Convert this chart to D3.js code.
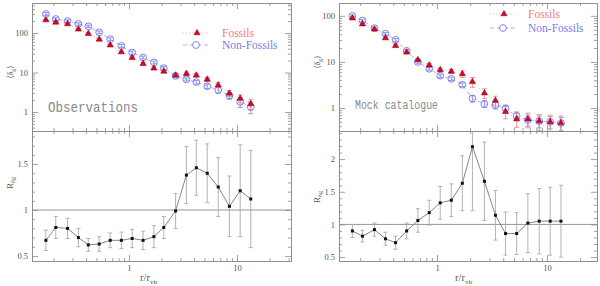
<!DOCTYPE html>
<html>
<head>
<meta charset="utf-8">
<script src="https://cdn.jsdelivr.net/npm/d3@7/dist/d3.min.js"></script>
<style>
  body { margin: 0; background: #fff; }
  svg { display: block; }
</style>
</head>
<body>
<svg id="chart" width="600" height="286"></svg>
<script>
// radial bins (r / r_vir), shared by both panels
const rVals = [0.17, 0.21, 0.27, 0.34, 0.42, 0.53, 0.67, 0.85, 1.07, 1.35,
               1.7, 2.1, 2.7, 3.4, 4.2, 5.3, 6.7, 8.5, 10.7, 13.4];

// Observations: mean overdensity
const obsFossil    = [213, 186, 169, 124, 96, 69, 49, 33, 23.6, 16.7, 12.8, 10.7, 8.5, 9.3, 8.5, 6.7, 4.8, 2.96, 2.2, 1.6];
const obsFossilErr = [10, 9, 8, 6, 5, 4, 3, 2, 1.5, 1.2, 1.0, 0.9, 0.8, 0.9, 0.9, 0.8, 0.7, 0.5, 0.5, 0.5];
const obsNonFos    = [303, 226, 201, 169, 148, 104, 70, 47, 32, 24, 18, 12.9, 8.2, 6.7, 5.7, 4.5, 3.6, 2.6, 1.8, 1.35];
const obsNonFosErr = [25, 18, 15, 12, 10, 8, 6, 4, 3, 2, 1.5, 1.2, 0.8, 0.6, 0.6, 0.6, 0.6, 0.5, 0.5, 0.45];
// Observations: ratio
const obsRatio     = [0.67, 0.81, 0.80, 0.70, 0.62, 0.63, 0.67, 0.67, 0.69, 0.67, 0.71, 0.81, 0.99, 1.38, 1.46, 1.40, 1.25, 1.04, 1.21, 1.12];
const obsRatioErr  = [0.11, 0.12, 0.11, 0.10, 0.07, 0.08, 0.08, 0.09, 0.10, 0.10, 0.12, 0.12, 0.19, 0.31, 0.30, 0.32, 0.32, 0.33, 0.50, 0.53];

// Mock catalogue: mean overdensity
const mockFossil    = [89, 66, 51, 33, 22.4, 16.2, 11, 8.5, 6.7, 6.2, 5.5, 3.7, 2.1, 1.45, 0.83, 0.58, 0.57, 0.52, 0.50, 0.47];
const mockFossilErr = [4, 3, 2.5, 2, 1.5, 1, 0.8, 0.7, 0.6, 0.6, 0.9, 0.9, 0.5, 0.35, 0.25, 0.2, 0.2, 0.2, 0.2, 0.2];
const mockNonFos    = [100, 79, 54, 41, 30, 17.4, 10, 7.1, 5.0, 4.3, 3.2, 1.6, 1.22, 1.15, 0.97, 0.67, 0.55, 0.52, 0.5, 0.47];
const mockNonFosErr = [5, 4, 3, 2.5, 2, 1.2, 0.7, 0.5, 0.4, 0.35, 0.3, 0.25, 0.2, 0.2, 0.18, 0.15, 0.15, 0.15, 0.15, 0.15];
// Mock catalogue: ratio
const mockRatio     = [0.90, 0.82, 0.92, 0.78, 0.72, 0.90, 1.06, 1.18, 1.33, 1.37, 1.63, 2.19, 1.66, 1.14, 0.86, 0.86, 1.02, 1.05, 1.05, 1.05];
const mockRatioErr  = [0.10, 0.09, 0.10, 0.10, 0.10, 0.12, 0.18, 0.19, 0.25, 0.25, 0.42, 0.98, 0.60, 0.38, 0.33, 0.32, 0.45, 0.5, 0.52, 0.55];

const seriesNames = ["Fossils", "Non-Fossils"];

const svg = d3.select("#chart");
const axisCol = "#8a8a8a";
const labelFont = "Liberation Serif, DejaVu Serif, serif";

const top0 = 3, mid = 131, bot = 261;

const panels = [
  { x0: 32, x1: 291, xdom: [0.1265, 31.6],
    ytop: [0.33, 575], ybot: [0.445, 1.86], ybotMajor: [0.5, 1, 1.5],
    fos: obsFossil, fosErr: obsFossilErr, nf: obsNonFos, nfErr: obsNonFosErr,
    ratio: obsRatio, ratioErr: obsRatioErr,
    note: "Observations", noteX: 48, noteY: 112, noteSize: 13, noteLen: 90,
    legX: 183, legY: 33, legDy: 12, legTextX: 222,
    yLabTop: 72, yLabBot: 183, xLab: 140 },
  { x0: 339, x1: 597, xdom: [0.1285, 28.5],
    ytop: [0.316, 190], ybot: [0.44, 2.43], ybotMajor: [0.5, 1, 1.5, 2],
    fos: mockFossil, fosErr: mockFossilErr, nf: mockNonFos, nfErr: mockNonFosErr,
    ratio: mockRatio, ratioErr: mockRatioErr,
    note: "Mock catalogue", noteX: 355, noteY: 109, noteSize: 11, noteLen: 83,
    legX: 490, legY: 14, legDy: 14, legTextX: 528,
    yLabTop: 62, yLabBot: 197, xLab: 455 }
];

function isDecade(v) {
  const l = Math.log10(v);
  return Math.abs(l - Math.round(l)) < 1e-6;
}

// ticks on all four sides, pointing inward
function frame(g, x, y, xMajor, xMinor, yMajor, yMinor, yFmt, xFmt) {
  const [xa, xb] = x.range();
  const [yb, ya] = y.range();
  const sides = [
    [d3.axisLeft(y), `translate(${xa},0)`, yMajor, yMinor, yFmt],
    [d3.axisRight(y), `translate(${xb},0)`, yMajor, yMinor, null],
    [d3.axisTop(x), `translate(0,${ya})`, xMajor, xMinor, null],
    [d3.axisBottom(x), `translate(0,${yb})`, xMajor, xMinor, xFmt]
  ];
  sides.forEach(([ax, tr, maj, mnr, fmt]) => {
    const a1 = g.append("g").attr("transform", tr)
      .call(ax.tickValues(mnr).tickSize(-3).tickSizeOuter(0).tickFormat(""));
    const a2 = g.append("g").attr("transform", tr)
      .call(ax.tickValues(maj).tickSize(-6).tickSizeOuter(0).tickPadding(4)
        .tickFormat(fmt || (() => "")));
    [a1, a2].forEach(a => {
      a.selectAll("path, line").attr("stroke", axisCol).attr("stroke-width", 0.8);
      a.selectAll("text").attr("fill", "#555").attr("font-family", labelFont)
        .attr("font-size", 8.5);
    });
  });
}

function errBars(g, x, y, vals, errs, col, cap) {
  g.selectAll(null).data(vals).enter().append("path")
    .attr("d", (v, i) => {
      const xx = x(rVals[i]);
      const lo = y(v - errs[i]);
      const hi = y(v + errs[i]);
      const l = isFinite(lo) ? lo : 1e4;
      return `M${xx},${hi}V${l}M${xx - cap},${hi}H${xx + cap}M${xx - cap},${l}H${xx + cap}`;
    })
    .attr("stroke", col).attr("stroke-width", 0.9).attr("fill", "none");
}

panels.forEach(p => {
  const g = svg.append("g");
  const x = d3.scaleLog().domain(p.xdom).range([p.x0, p.x1]);
  const yT = d3.scaleLog().domain(p.ytop).range([mid, top0]);
  const yB = d3.scaleLinear().domain(p.ybot).range([bot, mid]);

  const xt = x.ticks();
  const xMaj = xt.filter(isDecade), xMin = xt.filter(v => !isDecade(v));
  const yt = yT.ticks();
  const yMaj = yt.filter(isDecade), yMin = yt.filter(v => !isDecade(v));
  const ybMin = d3.range(5, 25).map(v => v / 10)
    .filter(v => v >= p.ybot[0] && v <= p.ybot[1] && !p.ybotMajor.includes(v));

  const clipId = "clip" + p.x0;
  const defs = g.append("defs");
  defs.append("clipPath").attr("id", clipId + "t").append("rect")
    .attr("x", p.x0).attr("y", top0).attr("width", p.x1 - p.x0).attr("height", mid - top0);
  defs.append("clipPath").attr("id", clipId + "b").append("rect")
    .attr("x", p.x0).attr("y", mid).attr("width", p.x1 - p.x0).attr("height", bot - mid);

  // ---- upper panel
  const up = g.append("g").attr("clip-path", `url(#${clipId}t)`);
  const line = d3.line().x((v, i) => x(rVals[i]));
  up.append("path").datum(p.nf).attr("d", line.y(v => yT(v)))
    .attr("fill", "none").attr("stroke", "#9a9af0").attr("stroke-width", 0.8)
    .attr("stroke-dasharray", "4,3");
  up.append("path").datum(p.fos).attr("d", line.y(v => yT(v)))
    .attr("fill", "none").attr("stroke", "#f0a0a0").attr("stroke-width", 0.8)
    .attr("stroke-dasharray", "1,2");
  errBars(up, x, yT, p.nf, p.nfErr, "#8c8cf5", 2.5);
  errBars(up, x, yT, p.fos, p.fosErr, "#f08a8a", 2.5);
  up.selectAll("circle.nf").data(p.nf).enter().append("circle")
    .attr("cx", (v, i) => x(rVals[i])).attr("cy", v => yT(v)).attr("r", 3.4)
    .attr("fill", "none").attr("stroke", "#7474ea").attr("stroke-width", 0.9);
  up.selectAll("path.fos").data(p.fos).enter().append("path")
    .attr("transform", (v, i) => `translate(${x(rVals[i])},${yT(v)})`)
    .attr("d", d3.symbol(d3.symbolTriangle, 17))
    .attr("fill", "#cc0a2a").attr("stroke", "#8a0018").attr("stroke-width", 0.5);

  frame(g, x, yT, xMaj, xMin, yMaj, yMin, d3.format("d"), null);

  // ---- lower panel
  const lo = g.append("g").attr("clip-path", `url(#${clipId}b)`);
  lo.append("line").attr("x1", p.x0).attr("x2", p.x1)
    .attr("y1", yB(1)).attr("y2", yB(1)).attr("stroke", "#8a8a8a").attr("stroke-width", 0.9);
  errBars(lo, x, yB, p.ratio, p.ratioErr, "#aaaaaa", 2);
  lo.append("path").datum(p.ratio).attr("d", line.y(v => yB(v)))
    .attr("fill", "none").attr("stroke", "#777").attr("stroke-width", 0.9);
  lo.selectAll("rect.pt").data(p.ratio).enter().append("rect")
    .attr("x", (v, i) => x(rVals[i]) - 1.5).attr("y", v => yB(v) - 1.5)
    .attr("width", 3).attr("height", 3).attr("fill", "#111");

  frame(g, x, yB, xMaj, xMin, p.ybotMajor, ybMin, d3.format("~g"), d3.format("d"));

  // ---- texts
  g.append("text").attr("x", p.noteX).attr("y", p.noteY)
    .attr("font-family", "Liberation Mono, DejaVu Sans Mono, monospace")
    .attr("font-size", p.noteSize + 1)
    .attr("fill", "#888").attr("textLength", p.noteLen)
    .attr("lengthAdjust", "spacingAndGlyphs").text(p.note);

  const lg = g.append("g");
  lg.append("line").attr("x1", p.legX).attr("x2", p.legX + 27)
    .attr("y1", p.legY).attr("y2", p.legY)
    .attr("stroke", "#f0a0a0").attr("stroke-width", 0.8).attr("stroke-dasharray", "1,2");
  lg.append("path").attr("transform", `translate(${p.legX + 14},${p.legY})`)
    .attr("d", d3.symbol(d3.symbolTriangle, 17))
    .attr("fill", "#cc0a2a").attr("stroke", "#8a0018").attr("stroke-width", 0.5);
  lg.append("line").attr("x1", p.legX).attr("x2", p.legX + 27)
    .attr("y1", p.legY + p.legDy).attr("y2", p.legY + p.legDy)
    .attr("stroke", "#9a9af0").attr("stroke-width", 0.8).attr("stroke-dasharray", "4,3");
  lg.append("circle").attr("cx", p.legX + 13).attr("cy", p.legY + p.legDy).attr("r", 3.4)
    .attr("fill", "#fff").attr("stroke", "#7474ea").attr("stroke-width", 0.9);
  lg.append("text").attr("x", p.legTextX).attr("y", p.legY + 3.5)
    .attr("font-family", labelFont).attr("font-size", 11.5).attr("fill", "#f07a7a")
    .text(seriesNames[0]);
  lg.append("text").attr("x", p.legTextX).attr("y", p.legY + p.legDy + 3.5)
    .attr("font-family", labelFont).attr("font-size", 11.5).attr("fill", "#7a7af0")
    .text(seriesNames[1]);

  // axis titles
  const t1 = g.append("text")
    .attr("transform", `translate(${p.x0 - 19},${p.yLabTop}) rotate(-90)`)
    .attr("text-anchor", "middle").attr("font-family", labelFont)
    .attr("font-size", 8).attr("fill", "#555");
  t1.append("tspan").text("\u27E8\u03B4");
  t1.append("tspan").attr("font-size", 6).attr("dy", 2).text("g");
  t1.append("tspan").attr("dy", -2).text("\u27E9");

  const t2 = g.append("text")
    .attr("transform", `translate(${p.x0 - 19},${p.yLabBot}) rotate(-90)`)
    .attr("text-anchor", "middle").attr("font-family", labelFont)
    .attr("font-size", 9).attr("fill", "#555");
  t2.append("tspan").text("R");
  t2.append("tspan").attr("font-size", 6).attr("dy", 2).text("\u03B4g");

  const t3 = g.append("text").attr("x", p.xLab).attr("y", 281)
    .attr("font-family", labelFont).attr("font-size", 10.5).attr("fill", "#555");
  t3.append("tspan").text("r/r");
  t3.append("tspan").attr("font-size", 7).attr("dy", 2.5).text("vir");
});
</script>
</body>
</html>
